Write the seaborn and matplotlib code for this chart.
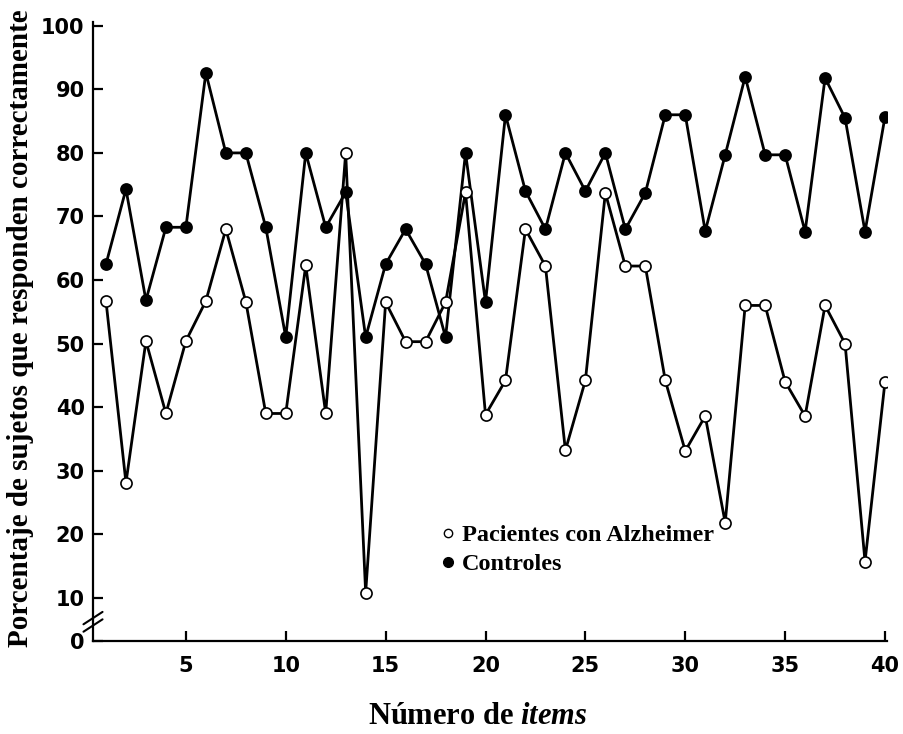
import matplotlib
matplotlib.use('Agg')
import matplotlib.pyplot as plt
import numpy as np
import pandas as pd
import seaborn as sns
from matplotlib.lines import Line2D

items = list(range(1, 41))
alzheimer = [56.7, 28.1, 50.4, 39.0, 50.4, 56.7, 68.0, 56.6, 39.0, 39.0,
             62.3, 39.0, 80.0, 10.8, 56.5, 50.3, 50.3, 56.5, 73.8, 38.8,
             44.2, 68.0, 62.2, 33.2, 44.2, 73.7, 62.2, 62.2, 44.2, 33.1,
             38.6, 21.8, 56.0, 56.0, 44.0, 38.6, 56.0, 50.0, 15.7, 44.0]
controles = [62.5, 74.3, 56.8, 68.3, 68.3, 92.6, 80.0, 80.0, 68.3, 51.0,
             80.0, 68.3, 73.8, 51.0, 62.5, 68.0, 62.5, 51.0, 80.0, 56.5,
             86.0, 74.0, 68.0, 80.0, 74.0, 80.0, 68.0, 73.7, 86.0, 86.0,
             67.7, 79.7, 92.0, 79.7, 79.7, 67.6, 91.8, 85.5, 67.6, 85.7]
series_names = ["Pacientes con Alzheimer", "Controles"]
xticks = [5, 10, 15, 20, 25, 30, 35, 40]
ytick_vals = [10, 20, 30, 40, 50, 60, 70, 80, 90, 100]
y_zero_pos = 3.2  # broken axis: where "0" is shown

df_alz = pd.DataFrame({"item": items, "pct": alzheimer})
df_con = pd.DataFrame({"item": items, "pct": controles})

sns.set_theme(style="white")
plt.rcParams['font.family'] = ['DejaVu Sans']
plt.rcParams['text.color'] = 'black'
plt.rcParams['axes.labelcolor'] = 'black'
plt.rcParams['xtick.color'] = 'black'
plt.rcParams['ytick.color'] = 'black'
plt.rcParams['mathtext.fontset'] = 'custom'
plt.rcParams['mathtext.rm'] = 'Liberation Serif:bold'
plt.rcParams['mathtext.it'] = 'Liberation Serif:italic:bold'
plt.rcParams['mathtext.bf'] = 'Liberation Serif:bold'

fig = plt.figure(figsize=(9.04, 7.34), dpi=100)
W, H = 904, 734
ax = fig.add_axes([93 / W, (H - 641) / H, 794 / W, 619 / H])

sns.lineplot(data=df_con, x="item", y="pct", ax=ax, color="black",
             marker="o", markersize=8, markerfacecolor="black",
             markeredgecolor="black", markeredgewidth=1.2, linewidth=2.0,
             legend=False, zorder=3)
sns.lineplot(data=df_alz, x="item", y="pct", ax=ax, color="black",
             marker="o", markersize=8, markerfacecolor="white",
             markeredgecolor="black", markeredgewidth=1.2, linewidth=2.0,
             legend=False, zorder=4)

ax.set_xlim(0.35, 40.1)
ax.set_ylim(y_zero_pos, 100.6)
ax.set_xticks(xticks)
ax.set_xticklabels([str(v) for v in xticks])
ax.set_yticks([y_zero_pos] + ytick_vals)
ax.set_yticklabels(["0"] + [str(v) for v in ytick_vals])
ax.yaxis.get_major_ticks()[0].tick1line.set_visible(False)

for side in ["top", "right"]:
    ax.spines[side].set_visible(False)
for side in ["left", "bottom"]:
    ax.spines[side].set_linewidth(1.6)
    ax.spines[side].set_color("black")

ax.tick_params(axis="both", direction="in", length=7, width=1.6,
               colors="black", labelsize=15)
ax.tick_params(axis="y", pad=6, left=True)
ax.tick_params(axis="x", pad=11, bottom=True)
for lab in ax.get_xticklabels() + ax.get_yticklabels():
    lab.set_fontweight("bold")
    lab.set_family("DejaVu Sans")
    lab.set_color("black")

# axis break marks
for off in (-0.006, 0.006):
    ax.plot([-0.012, 0.012], [0.031 + off - 0.010, 0.031 + off + 0.010],
            transform=ax.transAxes, color="black", lw=1.5, clip_on=False)

ax.set_xlabel(r"Número de $\it{items}$", fontsize=22,
              fontfamily="Liberation Serif", fontweight="bold", color="black")
ax.xaxis.set_label_coords((478 - 93) / 794, -(702 - 641) / 619)
ax.set_ylabel("Porcentaje de sujetos que responden correctamente",
              fontsize=21, fontfamily="Liberation Serif", fontweight="bold",
              color="black")
ax.yaxis.set_label_coords(-(93 - 34) / 794, 0.505)

handles = [
    Line2D([], [], ls="", marker="o", markersize=6, markerfacecolor="white",
           markeredgecolor="black", markeredgewidth=1.0),
    Line2D([], [], ls="", marker="o", markersize=7, markerfacecolor="black",
           markeredgecolor="black"),
]
leg = ax.legend(handles, series_names, loc="upper left",
                bbox_to_anchor=((441 - 93) / 794, (641 - 524) / 619),
                frameon=False, handlelength=0.6, handletextpad=0.25,
                labelspacing=0.3, borderpad=0, borderaxespad=0,
                prop={"family": "Liberation Serif", "weight": "bold",
                      "size": 17.5})
for t in leg.get_texts():
    t.set_color("black")

fig.savefig("out.png", dpi=100, facecolor="white")
